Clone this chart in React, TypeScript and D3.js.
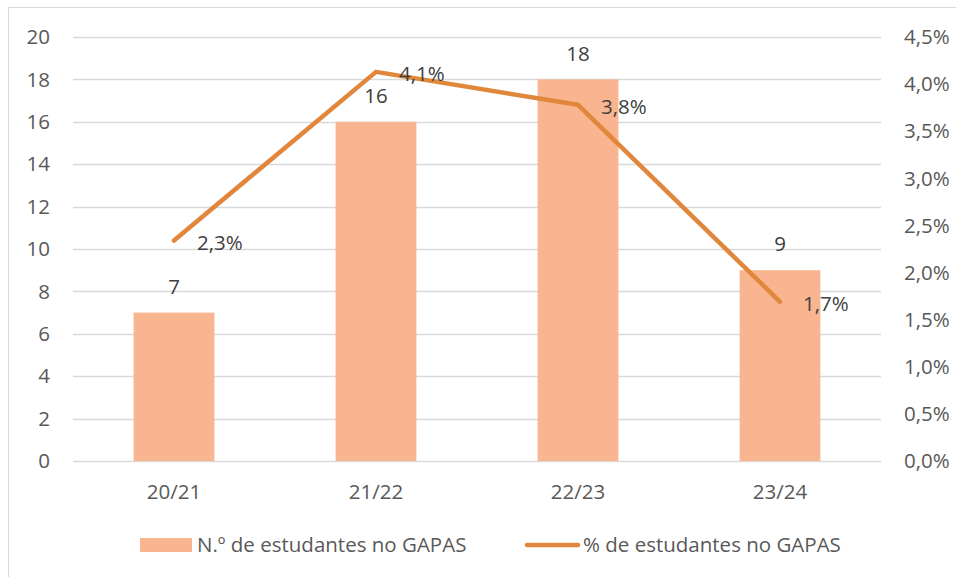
import React from "react";
import * as d3 from "d3";

const years = ["20/21", "21/22", "22/23", "23/24"];
const students = [7, 16, 18, 9];
const percents = [2.34, 4.13, 3.78, 1.69];
const leftTicks = [0, 2, 4, 6, 8, 10, 12, 14, 16, 18, 20];
const rightTicks = [0, 0.5, 1, 1.5, 2, 2.5, 3, 3.5, 4, 4.5];

const barLabel = "N.º de estudantes no GAPAS";
const lineLabel = "% de estudantes no GAPAS";

const fmt = (v: number, d: number) => v.toFixed(d).replace(".", ",");

const App = () => {
  const width = 956;
  const height = 577;
  const margin = { top: 37, right: 75, bottom: 116, left: 73 };
  const font = "'Open Sans', sans-serif";
  const textColor = "#595959";
  const fs = 20.5;

  const x = d3
    .scaleBand()
    .domain(years)
    .range([margin.left, width - margin.right])
    .paddingInner(0.6)
    .paddingOuter(0.3);

  const y = d3
    .scaleLinear()
    .domain([0, 20])
    .range([height - margin.bottom, margin.top]);

  const y2 = d3
    .scaleLinear()
    .domain([0, 4.5])
    .range([height - margin.bottom, margin.top]);

  const cx = (d: string) => (x(d) as number) + x.bandwidth() / 2;

  const line = d3
    .line<number>()
    .x((d, i) => cx(years[i]))
    .y(d => y2(d));

  return (
    <svg
      width={width}
      height={height}
      style={{ position: "absolute", left: 0, top: 0, background: "#fff" }}
      fontFamily={font}
    >
      <rect x={8.5} y={7.5} width={width + 10} height={height + 10} fill="#fff" stroke="#D9D9D9" />

      {/* gridlines */}
      {leftTicks.map(t => (
        <line
          key={"g" + t}
          x1={margin.left}
          x2={width - margin.right}
          y1={Math.round(y(t)) + 0.5}
          y2={Math.round(y(t)) + 0.5}
          stroke="#D9D9D9"
          strokeWidth={1.3}
        />
      ))}

      {/* left axis labels */}
      {leftTicks.map(t => (
        <text
          key={"l" + t}
          x={50}
          y={y(t)}
          dy="0.35em"
          textAnchor="end"
          fontSize={fs}
          fill={textColor}
        >
          {t}
        </text>
      ))}

      {/* right axis labels */}
      {rightTicks.map(t => (
        <text
          key={"r" + t}
          x={904}
          y={y2(t)}
          dy="0.35em"
          textAnchor="start"
          fontSize={fs}
          fill={textColor}
        >
          {fmt(t, 1) + "%"}
        </text>
      ))}

      {/* x labels */}
      {years.map(d => (
        <text
          key={"x" + d}
          x={cx(d)}
          y={492}
          dy="0.35em"
          textAnchor="middle"
          fontSize={fs}
          fill={textColor}
        >
          {d}
        </text>
      ))}

      {/* bars */}
      {students.map((v, i) => (
        <rect
          key={"b" + i}
          x={x(years[i])}
          y={y(v)}
          width={x.bandwidth()}
          height={y(0) - y(v)}
          fill="#F8B590"
        />
      ))}

      {/* bar labels */}
      {students.map((v, i) => (
        <text
          key={"bl" + i}
          x={cx(years[i])}
          y={y(v) - 26}
          dy="0.35em"
          textAnchor="middle"
          fontSize={fs}
          fill="#404040"
        >
          {v}
        </text>
      ))}

      {/* line */}
      <path
        d={line(percents) || ""}
        fill="none"
        stroke="#E0873C"
        strokeWidth={4.5}
        strokeLinecap="round"
        strokeLinejoin="round"
      />

      {/* line labels */}
      {percents.map((v, i) => (
        <text
          key={"pl" + i}
          x={cx(years[i]) + 23}
          y={y2(v) + 2}
          dy="0.35em"
          textAnchor="start"
          fontSize={fs}
          fill="#404040"
        >
          {fmt(v, 1) + "%"}
        </text>
      ))}

      {/* legend */}
      <rect x={140} y={538} width={52} height={14} fill="#F8B590" />
      <text x={197} y={545} dy="0.35em" fontSize={fs} fill={textColor}>
        {barLabel}
      </text>
      <line x1={527} x2={578} y1={545} y2={545} stroke="#E0873C" strokeWidth={4.5} strokeLinecap="round" />
      <text x={583} y={545} dy="0.35em" fontSize={fs} fill={textColor}>
        {lineLabel}
      </text>
    </svg>
  );
};

export default App;
